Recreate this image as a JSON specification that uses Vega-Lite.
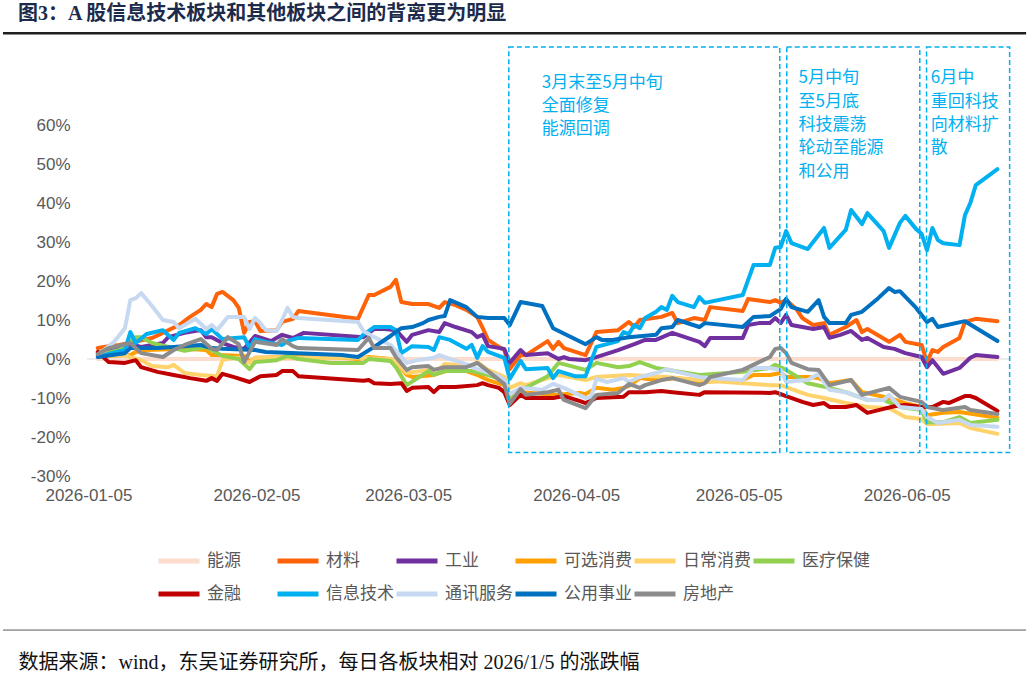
{
"$schema":"https://vega.github.io/schema/vega-lite/v6.json",
"width":924,"height":429,
"autosize":{"type":"none"},
"padding":{"left":87,"top":47,"right":24,"bottom":201},
"background":"#ffffff",
"title":{"text":"图3：A 股信息技术板块和其他板块之间的背离更为明显","anchor":"start","frame":"group","dx":-69,"offset":8,"font":"Liberation Serif, Noto Sans CJK SC","fontSize":20,"fontWeight":"bold","color":"#1C2B4B"},
"config":{"view":{"stroke":null},"axis":{"grid":false,"ticks":false,"domain":false,"labelFont":"Liberation Sans","labelFontSize":17,"labelColor":"#595959"}},
"datasets":{
"series":[
{"s":"能源","d":"2026-01-06","v":0},{"s":"能源","d":"2026-06-21","v":0},
{"s":"材料","d":"2026-01-06","v":2.8},{"s":"材料","d":"2026-01-08","v":3.3},{"s":"材料","d":"2026-01-10","v":3.6},{"s":"材料","d":"2026-01-16","v":5.4},{"s":"材料","d":"2026-01-18","v":6.7},{"s":"材料","d":"2026-01-21","v":8.7},{"s":"材料","d":"2026-01-23","v":10.8},{"s":"材料","d":"2026-01-25","v":12.6},{"s":"材料","d":"2026-01-26","v":14.1},{"s":"材料","d":"2026-01-27","v":13.3},{"s":"材料","d":"2026-01-28","v":16.7},{"s":"材料","d":"2026-01-29","v":17.2},{"s":"材料","d":"2026-01-31","v":15.1},{"s":"材料","d":"2026-02-01","v":13.1},{"s":"材料","d":"2026-02-02","v":6.7},{"s":"材料","d":"2026-02-03","v":9.5},{"s":"材料","d":"2026-02-04","v":9.7},{"s":"材料","d":"2026-02-05","v":7.2},{"s":"材料","d":"2026-02-08","v":7.4},{"s":"材料","d":"2026-02-09","v":9.5},{"s":"材料","d":"2026-02-11","v":10.3},{"s":"材料","d":"2026-02-12","v":12.3},{"s":"材料","d":"2026-02-23","v":10.3},{"s":"材料","d":"2026-02-25","v":16.4},{"s":"材料","d":"2026-02-26","v":16.4},{"s":"材料","d":"2026-03-01","v":18.5},{"s":"材料","d":"2026-03-02","v":20.3},{"s":"材料","d":"2026-03-03","v":14.6},{"s":"材料","d":"2026-03-05","v":14.1},{"s":"材料","d":"2026-03-08","v":14.1},{"s":"材料","d":"2026-03-10","v":13.1},{"s":"材料","d":"2026-03-11","v":14.6},{"s":"材料","d":"2026-03-13","v":13.8},{"s":"材料","d":"2026-03-15","v":12.6},{"s":"材料","d":"2026-03-17","v":10.8},{"s":"材料","d":"2026-03-18","v":8.0},{"s":"材料","d":"2026-03-19","v":4.9},{"s":"材料","d":"2026-03-21","v":3.1},{"s":"材料","d":"2026-03-22","v":2.3},{"s":"材料","d":"2026-03-23","v":-2.6},{"s":"材料","d":"2026-03-25","v":1.0},{"s":"材料","d":"2026-03-26","v":1.0},{"s":"材料","d":"2026-03-30","v":4.6},{"s":"材料","d":"2026-03-31","v":2.6},{"s":"材料","d":"2026-04-01","v":4.4},{"s":"材料","d":"2026-04-02","v":2.8},{"s":"材料","d":"2026-04-06","v":1.0},{"s":"材料","d":"2026-04-08","v":6.9},{"s":"材料","d":"2026-04-12","v":7.4},{"s":"材料","d":"2026-04-14","v":9.5},{"s":"材料","d":"2026-04-15","v":8.2},{"s":"材料","d":"2026-04-16","v":10.0},{"s":"材料","d":"2026-04-20","v":10.8},{"s":"材料","d":"2026-04-22","v":11.8},{"s":"材料","d":"2026-04-23","v":9.2},{"s":"材料","d":"2026-04-26","v":10.5},{"s":"材料","d":"2026-04-28","v":10.0},{"s":"材料","d":"2026-04-29","v":13.3},{"s":"材料","d":"2026-05-05","v":12.3},{"s":"材料","d":"2026-05-06","v":15.4},{"s":"材料","d":"2026-05-10","v":14.6},{"s":"材料","d":"2026-05-11","v":15.1},{"s":"材料","d":"2026-05-12","v":14.4},{"s":"材料","d":"2026-05-13","v":15.1},{"s":"材料","d":"2026-05-15","v":12.6},{"s":"材料","d":"2026-05-16","v":10.5},{"s":"材料","d":"2026-05-18","v":8.7},{"s":"材料","d":"2026-05-20","v":9.2},{"s":"材料","d":"2026-05-21","v":6.2},{"s":"材料","d":"2026-05-24","v":8.2},{"s":"材料","d":"2026-05-26","v":10.0},{"s":"材料","d":"2026-05-27","v":6.9},{"s":"材料","d":"2026-05-28","v":7.7},{"s":"材料","d":"2026-06-01","v":4.4},{"s":"材料","d":"2026-06-03","v":6.2},{"s":"材料","d":"2026-06-04","v":4.4},{"s":"材料","d":"2026-06-07","v":3.6},{"s":"材料","d":"2026-06-08","v":-0.8},{"s":"材料","d":"2026-06-09","v":2.3},{"s":"材料","d":"2026-06-10","v":1.8},{"s":"材料","d":"2026-06-11","v":3.1},{"s":"材料","d":"2026-06-14","v":5.4},{"s":"材料","d":"2026-06-15","v":9.5},{"s":"材料","d":"2026-06-17","v":10.3},{"s":"材料","d":"2026-06-21","v":9.7},
{"s":"工业","d":"2026-01-06","v":1.5},{"s":"工业","d":"2026-01-08","v":2.3},{"s":"工业","d":"2026-01-12","v":3.8},{"s":"工业","d":"2026-01-14","v":3.1},{"s":"工业","d":"2026-01-18","v":4.1},{"s":"工业","d":"2026-01-19","v":5.6},{"s":"工业","d":"2026-01-22","v":6.7},{"s":"工业","d":"2026-01-25","v":7.4},{"s":"工业","d":"2026-01-26","v":5.6},{"s":"工业","d":"2026-01-27","v":5.6},{"s":"工业","d":"2026-01-29","v":4.1},{"s":"工业","d":"2026-01-31","v":3.1},{"s":"工业","d":"2026-02-02","v":2.6},{"s":"工业","d":"2026-02-04","v":5.9},{"s":"工业","d":"2026-02-07","v":4.6},{"s":"工业","d":"2026-02-09","v":6.2},{"s":"工业","d":"2026-02-11","v":5.4},{"s":"工业","d":"2026-02-13","v":6.7},{"s":"工业","d":"2026-02-24","v":5.6},{"s":"工业","d":"2026-02-26","v":7.7},{"s":"工业","d":"2026-02-28","v":7.7},{"s":"工业","d":"2026-03-02","v":7.4},{"s":"工业","d":"2026-03-04","v":4.4},{"s":"工业","d":"2026-03-05","v":6.2},{"s":"工业","d":"2026-03-08","v":7.4},{"s":"工业","d":"2026-03-10","v":6.9},{"s":"工业","d":"2026-03-11","v":9.2},{"s":"工业","d":"2026-03-12","v":8.7},{"s":"工业","d":"2026-03-13","v":8.2},{"s":"工业","d":"2026-03-16","v":6.9},{"s":"工业","d":"2026-03-17","v":5.6},{"s":"工业","d":"2026-03-18","v":6.2},{"s":"工业","d":"2026-03-19","v":3.3},{"s":"工业","d":"2026-03-22","v":2.6},{"s":"工业","d":"2026-03-23","v":-1.0},{"s":"工业","d":"2026-03-25","v":2.3},{"s":"工业","d":"2026-03-26","v":1.0},{"s":"工业","d":"2026-03-30","v":1.5},{"s":"工业","d":"2026-04-01","v":0.0},{"s":"工业","d":"2026-04-02","v":0.5},{"s":"工业","d":"2026-04-03","v":0.0},{"s":"工业","d":"2026-04-06","v":-0.3},{"s":"工业","d":"2026-04-08","v":0.5},{"s":"工业","d":"2026-04-12","v":2.3},{"s":"工业","d":"2026-04-15","v":3.8},{"s":"工业","d":"2026-04-17","v":4.9},{"s":"工业","d":"2026-04-19","v":4.9},{"s":"工业","d":"2026-04-22","v":6.7},{"s":"工业","d":"2026-04-27","v":4.4},{"s":"工业","d":"2026-04-28","v":3.3},{"s":"工业","d":"2026-04-29","v":5.4},{"s":"工业","d":"2026-05-05","v":5.4},{"s":"工业","d":"2026-05-06","v":8.7},{"s":"工业","d":"2026-05-08","v":9.2},{"s":"工业","d":"2026-05-10","v":9.2},{"s":"工业","d":"2026-05-11","v":10.5},{"s":"工业","d":"2026-05-12","v":9.2},{"s":"工业","d":"2026-05-13","v":11.3},{"s":"工业","d":"2026-05-14","v":8.7},{"s":"工业","d":"2026-05-16","v":8.2},{"s":"工业","d":"2026-05-18","v":7.7},{"s":"工业","d":"2026-05-20","v":8.2},{"s":"工业","d":"2026-05-21","v":5.4},{"s":"工业","d":"2026-05-23","v":6.2},{"s":"工业","d":"2026-05-25","v":7.2},{"s":"工业","d":"2026-05-27","v":4.9},{"s":"工业","d":"2026-05-28","v":5.4},{"s":"工业","d":"2026-05-31","v":3.1},{"s":"工业","d":"2026-06-02","v":2.6},{"s":"工业","d":"2026-06-04","v":1.5},{"s":"工业","d":"2026-06-07","v":0.5},{"s":"工业","d":"2026-06-08","v":-2.1},{"s":"工业","d":"2026-06-09","v":-0.3},{"s":"工业","d":"2026-06-11","v":-3.8},{"s":"工业","d":"2026-06-14","v":-2.3},{"s":"工业","d":"2026-06-16","v":0.3},{"s":"工业","d":"2026-06-17","v":1.0},{"s":"工业","d":"2026-06-21","v":0.5},
{"s":"可选消费","d":"2026-01-06","v":0.8},{"s":"可选消费","d":"2026-01-12","v":1.0},{"s":"可选消费","d":"2026-01-13","v":1.8},{"s":"可选消费","d":"2026-01-15","v":2.3},{"s":"可选消费","d":"2026-01-22","v":2.6},{"s":"可选消费","d":"2026-01-26","v":2.3},{"s":"可选消费","d":"2026-01-27","v":1.0},{"s":"可选消费","d":"2026-01-28","v":1.0},{"s":"可选消费","d":"2026-02-02","v":0.8},{"s":"可选消费","d":"2026-02-03","v":-0.8},{"s":"可选消费","d":"2026-02-04","v":0.3},{"s":"可选消费","d":"2026-02-12","v":0.5},{"s":"可选消费","d":"2026-02-20","v":0.3},{"s":"可选消费","d":"2026-02-23","v":0.0},{"s":"可选消费","d":"2026-02-25","v":0.5},{"s":"可选消费","d":"2026-03-01","v":0.0},{"s":"可选消费","d":"2026-03-02","v":-0.8},{"s":"可选消费","d":"2026-03-04","v":-4.1},{"s":"可选消费","d":"2026-03-05","v":-4.6},{"s":"可选消费","d":"2026-03-09","v":-4.1},{"s":"可选消费","d":"2026-03-10","v":-3.6},{"s":"可选消费","d":"2026-03-12","v":-2.8},{"s":"可选消费","d":"2026-03-15","v":-3.1},{"s":"可选消费","d":"2026-03-17","v":-4.1},{"s":"可选消费","d":"2026-03-19","v":-5.4},{"s":"可选消费","d":"2026-03-22","v":-6.7},{"s":"可选消费","d":"2026-03-23","v":-10.3},{"s":"可选消费","d":"2026-03-25","v":-8.5},{"s":"可选消费","d":"2026-03-27","v":-8.7},{"s":"可选消费","d":"2026-03-31","v":-9.2},{"s":"可选消费","d":"2026-04-05","v":-8.7},{"s":"可选消费","d":"2026-04-06","v":-9.0},{"s":"可选消费","d":"2026-04-08","v":-7.4},{"s":"可选消费","d":"2026-04-11","v":-7.9},{"s":"可选消费","d":"2026-04-13","v":-7.4},{"s":"可选消费","d":"2026-04-14","v":-6.9},{"s":"可选消费","d":"2026-04-16","v":-4.9},{"s":"可选消费","d":"2026-04-19","v":-5.4},{"s":"可选消费","d":"2026-04-23","v":-4.9},{"s":"可选消费","d":"2026-04-27","v":-5.9},{"s":"可选消费","d":"2026-05-05","v":-5.4},{"s":"可选消费","d":"2026-05-07","v":-4.1},{"s":"可选消费","d":"2026-05-10","v":-4.1},{"s":"可选消费","d":"2026-05-12","v":-3.6},{"s":"可选消费","d":"2026-05-13","v":-4.6},{"s":"可选消费","d":"2026-05-17","v":-4.6},{"s":"可选消费","d":"2026-05-19","v":-4.9},{"s":"可选消费","d":"2026-05-21","v":-6.2},{"s":"可选消费","d":"2026-05-25","v":-5.4},{"s":"可选消费","d":"2026-05-27","v":-8.5},{"s":"可选消费","d":"2026-06-01","v":-10.0},{"s":"可选消费","d":"2026-06-04","v":-11.3},{"s":"可选消费","d":"2026-06-07","v":-12.3},{"s":"可选消费","d":"2026-06-08","v":-14.4},{"s":"可选消费","d":"2026-06-11","v":-13.8},{"s":"可选消费","d":"2026-06-14","v":-13.6},{"s":"可选消费","d":"2026-06-21","v":-15.1},
{"s":"日常消费","d":"2026-01-06","v":0.8},{"s":"日常消费","d":"2026-01-11","v":1.0},{"s":"日常消费","d":"2026-01-12","v":0.5},{"s":"日常消费","d":"2026-01-14","v":-0.3},{"s":"日常消费","d":"2026-01-16","v":-1.8},{"s":"日常消费","d":"2026-01-19","v":-2.1},{"s":"日常消费","d":"2026-01-20","v":-1.5},{"s":"日常消费","d":"2026-01-22","v":-3.6},{"s":"日常消费","d":"2026-01-25","v":-4.1},{"s":"日常消费","d":"2026-01-28","v":-4.4},{"s":"日常消费","d":"2026-01-29","v":-0.3},{"s":"日常消费","d":"2026-01-31","v":0.3},{"s":"日常消费","d":"2026-02-01","v":0.3},{"s":"日常消费","d":"2026-02-03","v":-1.0},{"s":"日常消费","d":"2026-02-04","v":0.3},{"s":"日常消费","d":"2026-02-12","v":0.3},{"s":"日常消费","d":"2026-02-23","v":0.3},{"s":"日常消费","d":"2026-03-01","v":0.0},{"s":"日常消费","d":"2026-03-02","v":-0.8},{"s":"日常消费","d":"2026-03-04","v":-3.6},{"s":"日常消费","d":"2026-03-08","v":-2.8},{"s":"日常消费","d":"2026-03-10","v":-2.6},{"s":"日常消费","d":"2026-03-11","v":-1.3},{"s":"日常消费","d":"2026-03-16","v":-1.8},{"s":"日常消费","d":"2026-03-17","v":-0.8},{"s":"日常消费","d":"2026-03-19","v":-2.8},{"s":"日常消费","d":"2026-03-22","v":-4.6},{"s":"日常消费","d":"2026-03-23","v":-7.4},{"s":"日常消费","d":"2026-03-25","v":-6.2},{"s":"日常消费","d":"2026-03-26","v":-6.7},{"s":"日常消费","d":"2026-03-30","v":-4.9},{"s":"日常消费","d":"2026-04-01","v":-4.1},{"s":"日常消费","d":"2026-04-06","v":-5.4},{"s":"日常消费","d":"2026-04-08","v":-4.6},{"s":"日常消费","d":"2026-04-14","v":-4.1},{"s":"日常消费","d":"2026-04-21","v":-4.6},{"s":"日常消费","d":"2026-04-27","v":-5.4},{"s":"日常消费","d":"2026-05-05","v":-6.2},{"s":"日常消费","d":"2026-05-10","v":-6.7},{"s":"日常消费","d":"2026-05-12","v":-6.7},{"s":"日常消费","d":"2026-05-17","v":-9.2},{"s":"日常消费","d":"2026-05-20","v":-10.0},{"s":"日常消费","d":"2026-05-24","v":-11.3},{"s":"日常消费","d":"2026-05-28","v":-12.3},{"s":"日常消费","d":"2026-06-01","v":-12.6},{"s":"日常消费","d":"2026-06-04","v":-14.9},{"s":"日常消费","d":"2026-06-07","v":-15.4},{"s":"日常消费","d":"2026-06-08","v":-16.7},{"s":"日常消费","d":"2026-06-14","v":-16.4},{"s":"日常消费","d":"2026-06-16","v":-17.7},{"s":"日常消费","d":"2026-06-21","v":-19.2},
{"s":"医疗保健","d":"2026-01-06","v":1.0},{"s":"医疗保健","d":"2026-01-10","v":2.3},{"s":"医疗保健","d":"2026-01-13","v":5.6},{"s":"医疗保健","d":"2026-01-14","v":5.6},{"s":"医疗保健","d":"2026-01-16","v":4.1},{"s":"医疗保健","d":"2026-01-20","v":2.8},{"s":"医疗保健","d":"2026-01-22","v":2.1},{"s":"医疗保健","d":"2026-01-26","v":3.1},{"s":"医疗保健","d":"2026-01-29","v":0.8},{"s":"医疗保健","d":"2026-02-01","v":0.0},{"s":"医疗保健","d":"2026-02-03","v":-2.6},{"s":"医疗保健","d":"2026-02-04","v":-0.8},{"s":"医疗保健","d":"2026-02-08","v":-0.3},{"s":"医疗保健","d":"2026-02-10","v":0.8},{"s":"医疗保健","d":"2026-02-12","v":0.0},{"s":"医疗保健","d":"2026-02-18","v":-1.0},{"s":"医疗保健","d":"2026-02-24","v":-1.0},{"s":"医疗保健","d":"2026-02-25","v":0.0},{"s":"医疗保健","d":"2026-03-01","v":-0.5},{"s":"医疗保健","d":"2026-03-02","v":-2.1},{"s":"医疗保健","d":"2026-03-04","v":-6.7},{"s":"医疗保健","d":"2026-03-08","v":-3.1},{"s":"医疗保健","d":"2026-03-09","v":-4.1},{"s":"医疗保健","d":"2026-03-11","v":-3.1},{"s":"医疗保健","d":"2026-03-16","v":-3.1},{"s":"医疗保健","d":"2026-03-19","v":-4.1},{"s":"医疗保健","d":"2026-03-22","v":-5.4},{"s":"医疗保健","d":"2026-03-23","v":-10.8},{"s":"医疗保健","d":"2026-03-25","v":-7.9},{"s":"医疗保健","d":"2026-03-26","v":-7.4},{"s":"医疗保健","d":"2026-03-30","v":-4.4},{"s":"医疗保健","d":"2026-04-01","v":-1.0},{"s":"医疗保健","d":"2026-04-06","v":-2.8},{"s":"医疗保健","d":"2026-04-08","v":-1.0},{"s":"医疗保健","d":"2026-04-12","v":-2.1},{"s":"医疗保健","d":"2026-04-14","v":-1.8},{"s":"医疗保健","d":"2026-04-16","v":-0.8},{"s":"医疗保健","d":"2026-04-19","v":-2.3},{"s":"医疗保健","d":"2026-04-27","v":-4.1},{"s":"医疗保健","d":"2026-05-05","v":-3.3},{"s":"医疗保健","d":"2026-05-10","v":-2.3},{"s":"医疗保健","d":"2026-05-11","v":-1.5},{"s":"医疗保健","d":"2026-05-13","v":-2.8},{"s":"医疗保健","d":"2026-05-17","v":-6.2},{"s":"医疗保健","d":"2026-05-21","v":-7.4},{"s":"医疗保健","d":"2026-05-24","v":-8.5},{"s":"医疗保健","d":"2026-05-28","v":-10.5},{"s":"医疗保健","d":"2026-05-31","v":-10.5},{"s":"医疗保健","d":"2026-06-03","v":-12.3},{"s":"医疗保健","d":"2026-06-07","v":-13.1},{"s":"医疗保健","d":"2026-06-08","v":-16.2},{"s":"医疗保健","d":"2026-06-11","v":-16.2},{"s":"医疗保健","d":"2026-06-14","v":-14.9},{"s":"医疗保健","d":"2026-06-16","v":-16.4},{"s":"医疗保健","d":"2026-06-21","v":-15.6},
{"s":"金融","d":"2026-01-06","v":1.8},{"s":"金融","d":"2026-01-08","v":-0.8},{"s":"金融","d":"2026-01-11","v":-1.0},{"s":"金融","d":"2026-01-13","v":-0.3},{"s":"金融","d":"2026-01-14","v":-2.1},{"s":"金融","d":"2026-01-17","v":-3.3},{"s":"金融","d":"2026-01-20","v":-4.1},{"s":"金融","d":"2026-01-23","v":-4.9},{"s":"金融","d":"2026-01-26","v":-5.6},{"s":"金融","d":"2026-01-27","v":-4.9},{"s":"金融","d":"2026-01-28","v":-5.6},{"s":"金融","d":"2026-01-29","v":-3.8},{"s":"金融","d":"2026-01-31","v":-4.6},{"s":"金融","d":"2026-02-03","v":-5.9},{"s":"金融","d":"2026-02-05","v":-4.4},{"s":"金融","d":"2026-02-08","v":-4.1},{"s":"金融","d":"2026-02-09","v":-3.1},{"s":"金融","d":"2026-02-11","v":-3.1},{"s":"金融","d":"2026-02-12","v":-4.4},{"s":"金融","d":"2026-02-24","v":-5.6},{"s":"金融","d":"2026-02-25","v":-5.4},{"s":"金融","d":"2026-02-26","v":-6.2},{"s":"金融","d":"2026-03-01","v":-6.4},{"s":"金融","d":"2026-03-03","v":-6.2},{"s":"金融","d":"2026-03-04","v":-8.2},{"s":"金融","d":"2026-03-05","v":-7.4},{"s":"金融","d":"2026-03-08","v":-7.2},{"s":"金融","d":"2026-03-09","v":-8.5},{"s":"金融","d":"2026-03-10","v":-7.2},{"s":"金融","d":"2026-03-13","v":-7.2},{"s":"金融","d":"2026-03-17","v":-6.7},{"s":"金融","d":"2026-03-18","v":-6.2},{"s":"金融","d":"2026-03-19","v":-6.7},{"s":"金融","d":"2026-03-21","v":-7.4},{"s":"金融","d":"2026-03-22","v":-8.5},{"s":"金融","d":"2026-03-23","v":-11.8},{"s":"金融","d":"2026-03-25","v":-9.2},{"s":"金融","d":"2026-03-26","v":-10.0},{"s":"金融","d":"2026-03-31","v":-10.0},{"s":"金融","d":"2026-04-02","v":-9.5},{"s":"金融","d":"2026-04-05","v":-10.8},{"s":"金融","d":"2026-04-06","v":-11.3},{"s":"金融","d":"2026-04-08","v":-10.0},{"s":"金融","d":"2026-04-13","v":-9.7},{"s":"金融","d":"2026-04-14","v":-8.5},{"s":"金融","d":"2026-04-17","v":-8.5},{"s":"金融","d":"2026-04-20","v":-8.2},{"s":"金融","d":"2026-04-22","v":-8.5},{"s":"金融","d":"2026-04-27","v":-9.2},{"s":"金融","d":"2026-04-28","v":-8.5},{"s":"金融","d":"2026-05-10","v":-8.7},{"s":"金融","d":"2026-05-11","v":-8.5},{"s":"金融","d":"2026-05-13","v":-9.5},{"s":"金融","d":"2026-05-16","v":-11.0},{"s":"金融","d":"2026-05-18","v":-11.8},{"s":"金融","d":"2026-05-20","v":-11.3},{"s":"金融","d":"2026-05-21","v":-12.3},{"s":"金融","d":"2026-05-24","v":-12.3},{"s":"金融","d":"2026-05-26","v":-11.8},{"s":"金融","d":"2026-05-28","v":-13.8},{"s":"金融","d":"2026-05-31","v":-12.8},{"s":"金融","d":"2026-06-02","v":-12.1},{"s":"金融","d":"2026-06-04","v":-11.8},{"s":"金融","d":"2026-06-07","v":-12.3},{"s":"金融","d":"2026-06-09","v":-12.3},{"s":"金融","d":"2026-06-11","v":-11.0},{"s":"金融","d":"2026-06-12","v":-11.3},{"s":"金融","d":"2026-06-15","v":-9.5},{"s":"金融","d":"2026-06-16","v":-9.5},{"s":"金融","d":"2026-06-17","v":-10.0},{"s":"金融","d":"2026-06-21","v":-13.3},
{"s":"信息技术","d":"2026-01-06","v":0.5},{"s":"信息技术","d":"2026-01-08","v":1.3},{"s":"信息技术","d":"2026-01-11","v":2.3},{"s":"信息技术","d":"2026-01-12","v":6.9},{"s":"信息技术","d":"2026-01-13","v":4.1},{"s":"信息技术","d":"2026-01-15","v":6.4},{"s":"信息技术","d":"2026-01-18","v":7.4},{"s":"信息技术","d":"2026-01-20","v":4.9},{"s":"信息技术","d":"2026-01-21","v":6.7},{"s":"信息技术","d":"2026-01-24","v":7.9},{"s":"信息技术","d":"2026-01-26","v":6.4},{"s":"信息技术","d":"2026-01-27","v":7.7},{"s":"信息技术","d":"2026-01-29","v":5.1},{"s":"信息技术","d":"2026-02-02","v":5.6},{"s":"信息技术","d":"2026-02-03","v":2.8},{"s":"信息技术","d":"2026-02-04","v":5.1},{"s":"信息技术","d":"2026-02-06","v":4.4},{"s":"信息技术","d":"2026-02-09","v":3.6},{"s":"信息技术","d":"2026-02-10","v":4.6},{"s":"信息技术","d":"2026-02-12","v":5.4},{"s":"信息技术","d":"2026-02-23","v":4.9},{"s":"信息技术","d":"2026-02-24","v":6.2},{"s":"信息技术","d":"2026-02-26","v":8.2},{"s":"信息技术","d":"2026-03-01","v":8.2},{"s":"信息技术","d":"2026-03-02","v":7.4},{"s":"信息技术","d":"2026-03-03","v":1.5},{"s":"信息技术","d":"2026-03-05","v":3.3},{"s":"信息技术","d":"2026-03-08","v":3.1},{"s":"信息技术","d":"2026-03-09","v":2.3},{"s":"信息技术","d":"2026-03-10","v":5.6},{"s":"信息技术","d":"2026-03-12","v":4.9},{"s":"信息技术","d":"2026-03-15","v":2.6},{"s":"信息技术","d":"2026-03-16","v":3.6},{"s":"信息技术","d":"2026-03-17","v":0.3},{"s":"信息技术","d":"2026-03-18","v":3.3},{"s":"信息技术","d":"2026-03-19","v":1.8},{"s":"信息技术","d":"2026-03-22","v":0.3},{"s":"信息技术","d":"2026-03-23","v":-5.1},{"s":"信息技术","d":"2026-03-25","v":-0.5},{"s":"信息技术","d":"2026-03-26","v":-2.6},{"s":"信息技术","d":"2026-03-30","v":-2.3},{"s":"信息技术","d":"2026-03-31","v":-4.9},{"s":"信息技术","d":"2026-04-01","v":-3.1},{"s":"信息技术","d":"2026-04-04","v":-4.4},{"s":"信息技术","d":"2026-04-06","v":-4.4},{"s":"信息技术","d":"2026-04-08","v":3.1},{"s":"信息技术","d":"2026-04-12","v":4.6},{"s":"信息技术","d":"2026-04-13","v":6.9},{"s":"信息技术","d":"2026-04-14","v":6.4},{"s":"信息技术","d":"2026-04-15","v":8.7},{"s":"信息技术","d":"2026-04-16","v":7.9},{"s":"信息技术","d":"2026-04-17","v":10.5},{"s":"信息技术","d":"2026-04-19","v":12.1},{"s":"信息技术","d":"2026-04-20","v":13.3},{"s":"信息技术","d":"2026-04-21","v":12.6},{"s":"信息技术","d":"2026-04-22","v":16.2},{"s":"信息技术","d":"2026-04-23","v":14.6},{"s":"信息技术","d":"2026-04-26","v":13.3},{"s":"信息技术","d":"2026-04-27","v":15.9},{"s":"信息技术","d":"2026-04-28","v":14.4},{"s":"信息技术","d":"2026-05-05","v":16.4},{"s":"信息技术","d":"2026-05-06","v":20.3},{"s":"信息技术","d":"2026-05-07","v":24.1},{"s":"信息技术","d":"2026-05-10","v":24.1},{"s":"信息技术","d":"2026-05-11","v":28.5},{"s":"信息技术","d":"2026-05-12","v":28.7},{"s":"信息技术","d":"2026-05-13","v":32.8},{"s":"信息技术","d":"2026-05-14","v":29.7},{"s":"信息技术","d":"2026-05-17","v":28.2},{"s":"信息技术","d":"2026-05-20","v":33.6},{"s":"信息技术","d":"2026-05-21","v":28.5},{"s":"信息技术","d":"2026-05-24","v":33.1},{"s":"信息技术","d":"2026-05-25","v":38.2},{"s":"信息技术","d":"2026-05-27","v":34.6},{"s":"信息技术","d":"2026-05-28","v":37.4},{"s":"信息技术","d":"2026-05-31","v":32.8},{"s":"信息技术","d":"2026-06-01","v":28.5},{"s":"信息技术","d":"2026-06-03","v":34.9},{"s":"信息技术","d":"2026-06-04","v":36.7},{"s":"信息技术","d":"2026-06-06","v":33.3},{"s":"信息技术","d":"2026-06-07","v":32.1},{"s":"信息技术","d":"2026-06-08","v":27.9},{"s":"信息技术","d":"2026-06-09","v":33.6},{"s":"信息技术","d":"2026-06-10","v":30.5},{"s":"信息技术","d":"2026-06-11","v":29.7},{"s":"信息技术","d":"2026-06-14","v":29.2},{"s":"信息技术","d":"2026-06-15","v":36.9},{"s":"信息技术","d":"2026-06-16","v":40.0},{"s":"信息技术","d":"2026-06-17","v":44.6},{"s":"信息技术","d":"2026-06-21","v":48.7},
{"s":"通讯服务","d":"2026-01-06","v":1.0},{"s":"通讯服务","d":"2026-01-09","v":4.4},{"s":"通讯服务","d":"2026-01-11","v":7.9},{"s":"通讯服务","d":"2026-01-12","v":15.1},{"s":"通讯服务","d":"2026-01-13","v":15.6},{"s":"通讯服务","d":"2026-01-14","v":16.9},{"s":"通讯服务","d":"2026-01-16","v":13.6},{"s":"通讯服务","d":"2026-01-18","v":10.0},{"s":"通讯服务","d":"2026-01-20","v":9.5},{"s":"通讯服务","d":"2026-01-21","v":7.9},{"s":"通讯服务","d":"2026-01-24","v":10.3},{"s":"通讯服务","d":"2026-01-26","v":7.7},{"s":"通讯服务","d":"2026-01-27","v":8.7},{"s":"通讯服务","d":"2026-01-28","v":7.4},{"s":"通讯服务","d":"2026-01-30","v":10.8},{"s":"通讯服务","d":"2026-02-02","v":10.8},{"s":"通讯服务","d":"2026-02-03","v":7.7},{"s":"通讯服务","d":"2026-02-04","v":10.5},{"s":"通讯服务","d":"2026-02-05","v":9.2},{"s":"通讯服务","d":"2026-02-06","v":7.4},{"s":"通讯服务","d":"2026-02-08","v":7.2},{"s":"通讯服务","d":"2026-02-09","v":10.0},{"s":"通讯服务","d":"2026-02-10","v":13.1},{"s":"通讯服务","d":"2026-02-11","v":10.8},{"s":"通讯服务","d":"2026-02-12","v":10.5},{"s":"通讯服务","d":"2026-02-23","v":9.5},{"s":"通讯服务","d":"2026-02-24","v":7.2},{"s":"通讯服务","d":"2026-02-26","v":5.6},{"s":"通讯服务","d":"2026-03-01","v":3.6},{"s":"通讯服务","d":"2026-03-04","v":-1.0},{"s":"通讯服务","d":"2026-03-06","v":-0.3},{"s":"通讯服务","d":"2026-03-09","v":0.3},{"s":"通讯服务","d":"2026-03-10","v":1.0},{"s":"通讯服务","d":"2026-03-12","v":0.0},{"s":"通讯服务","d":"2026-03-15","v":-1.3},{"s":"通讯服务","d":"2026-03-17","v":-2.6},{"s":"通讯服务","d":"2026-03-21","v":-4.4},{"s":"通讯服务","d":"2026-03-22","v":-5.4},{"s":"通讯服务","d":"2026-03-23","v":-9.0},{"s":"通讯服务","d":"2026-03-25","v":-7.4},{"s":"通讯服务","d":"2026-03-29","v":-7.9},{"s":"通讯服务","d":"2026-03-31","v":-6.4},{"s":"通讯服务","d":"2026-04-02","v":-7.4},{"s":"通讯服务","d":"2026-04-06","v":-10.0},{"s":"通讯服务","d":"2026-04-07","v":-9.7},{"s":"通讯服务","d":"2026-04-08","v":-5.1},{"s":"通讯服务","d":"2026-04-10","v":-5.9},{"s":"通讯服务","d":"2026-04-13","v":-4.9},{"s":"通讯服务","d":"2026-04-14","v":-5.9},{"s":"通讯服务","d":"2026-04-16","v":-4.6},{"s":"通讯服务","d":"2026-04-19","v":-3.6},{"s":"通讯服务","d":"2026-04-21","v":-2.6},{"s":"通讯服务","d":"2026-04-23","v":-3.3},{"s":"通讯服务","d":"2026-04-27","v":-4.6},{"s":"通讯服务","d":"2026-04-29","v":-4.9},{"s":"通讯服务","d":"2026-05-05","v":-5.4},{"s":"通讯服务","d":"2026-05-07","v":-2.3},{"s":"通讯服务","d":"2026-05-10","v":-2.3},{"s":"通讯服务","d":"2026-05-12","v":-2.8},{"s":"通讯服务","d":"2026-05-13","v":-5.9},{"s":"通讯服务","d":"2026-05-15","v":-5.6},{"s":"通讯服务","d":"2026-05-17","v":-5.4},{"s":"通讯服务","d":"2026-05-19","v":-3.8},{"s":"通讯服务","d":"2026-05-21","v":-7.9},{"s":"通讯服务","d":"2026-05-24","v":-8.5},{"s":"通讯服务","d":"2026-05-28","v":-10.5},{"s":"通讯服务","d":"2026-05-31","v":-10.5},{"s":"通讯服务","d":"2026-06-01","v":-9.2},{"s":"通讯服务","d":"2026-06-03","v":-12.3},{"s":"通讯服务","d":"2026-06-07","v":-12.8},{"s":"通讯服务","d":"2026-06-08","v":-14.9},{"s":"通讯服务","d":"2026-06-10","v":-16.4},{"s":"通讯服务","d":"2026-06-14","v":-15.6},{"s":"通讯服务","d":"2026-06-16","v":-16.9},{"s":"通讯服务","d":"2026-06-21","v":-17.4},
{"s":"公用事业","d":"2026-01-06","v":0.5},{"s":"公用事业","d":"2026-01-11","v":1.5},{"s":"公用事业","d":"2026-01-12","v":2.8},{"s":"公用事业","d":"2026-01-17","v":2.8},{"s":"公用事业","d":"2026-01-20","v":3.1},{"s":"公用事业","d":"2026-01-25","v":3.6},{"s":"公用事业","d":"2026-01-27","v":2.8},{"s":"公用事业","d":"2026-01-29","v":2.6},{"s":"公用事业","d":"2026-02-04","v":2.3},{"s":"公用事业","d":"2026-02-06","v":1.8},{"s":"公用事业","d":"2026-02-20","v":1.0},{"s":"公用事业","d":"2026-02-23","v":0.5},{"s":"公用事业","d":"2026-02-26","v":3.1},{"s":"公用事业","d":"2026-03-01","v":5.9},{"s":"公用事业","d":"2026-03-03","v":7.9},{"s":"公用事业","d":"2026-03-05","v":8.2},{"s":"公用事业","d":"2026-03-07","v":9.2},{"s":"公用事业","d":"2026-03-08","v":10.0},{"s":"公用事业","d":"2026-03-10","v":10.8},{"s":"公用事业","d":"2026-03-11","v":11.0},{"s":"公用事业","d":"2026-03-12","v":15.1},{"s":"公用事业","d":"2026-03-15","v":13.3},{"s":"公用事业","d":"2026-03-17","v":10.8},{"s":"公用事业","d":"2026-03-19","v":10.5},{"s":"公用事业","d":"2026-03-22","v":10.5},{"s":"公用事业","d":"2026-03-23","v":8.7},{"s":"公用事业","d":"2026-03-25","v":14.6},{"s":"公用事业","d":"2026-03-29","v":13.6},{"s":"公用事业","d":"2026-03-31","v":7.9},{"s":"公用事业","d":"2026-04-06","v":3.8},{"s":"公用事业","d":"2026-04-08","v":5.6},{"s":"公用事业","d":"2026-04-09","v":4.9},{"s":"公用事业","d":"2026-04-11","v":4.9},{"s":"公用事业","d":"2026-04-14","v":5.6},{"s":"公用事业","d":"2026-04-19","v":6.2},{"s":"公用事业","d":"2026-04-20","v":7.9},{"s":"公用事业","d":"2026-04-22","v":8.2},{"s":"公用事业","d":"2026-04-23","v":10.0},{"s":"公用事业","d":"2026-04-27","v":8.2},{"s":"公用事业","d":"2026-04-28","v":9.2},{"s":"公用事业","d":"2026-05-05","v":8.2},{"s":"公用事业","d":"2026-05-07","v":10.8},{"s":"公用事业","d":"2026-05-10","v":11.0},{"s":"公用事业","d":"2026-05-12","v":12.8},{"s":"公用事业","d":"2026-05-13","v":15.4},{"s":"公用事业","d":"2026-05-14","v":13.3},{"s":"公用事业","d":"2026-05-17","v":12.1},{"s":"公用事业","d":"2026-05-19","v":15.1},{"s":"公用事业","d":"2026-05-20","v":10.8},{"s":"公用事业","d":"2026-05-21","v":9.2},{"s":"公用事业","d":"2026-05-24","v":9.2},{"s":"公用事业","d":"2026-05-25","v":11.3},{"s":"公用事业","d":"2026-05-27","v":12.1},{"s":"公用事业","d":"2026-05-30","v":15.6},{"s":"公用事业","d":"2026-06-01","v":18.2},{"s":"公用事业","d":"2026-06-02","v":17.2},{"s":"公用事业","d":"2026-06-03","v":17.4},{"s":"公用事业","d":"2026-06-06","v":13.1},{"s":"公用事业","d":"2026-06-08","v":9.5},{"s":"公用事业","d":"2026-06-09","v":10.3},{"s":"公用事业","d":"2026-06-10","v":8.2},{"s":"公用事业","d":"2026-06-15","v":9.7},{"s":"公用事业","d":"2026-06-21","v":4.6},
{"s":"房地产","d":"2026-01-06","v":1.3},{"s":"房地产","d":"2026-01-08","v":2.8},{"s":"房地产","d":"2026-01-12","v":4.1},{"s":"房地产","d":"2026-01-14","v":1.5},{"s":"房地产","d":"2026-01-18","v":0.5},{"s":"房地产","d":"2026-01-20","v":2.3},{"s":"房地产","d":"2026-01-22","v":3.6},{"s":"房地产","d":"2026-01-25","v":5.1},{"s":"房地产","d":"2026-01-27","v":2.6},{"s":"房地产","d":"2026-01-28","v":2.3},{"s":"房地产","d":"2026-01-30","v":5.6},{"s":"房地产","d":"2026-02-01","v":3.8},{"s":"房地产","d":"2026-02-02","v":-0.8},{"s":"房地产","d":"2026-02-04","v":4.4},{"s":"房地产","d":"2026-02-08","v":3.6},{"s":"房地产","d":"2026-02-09","v":5.1},{"s":"房地产","d":"2026-02-11","v":3.3},{"s":"房地产","d":"2026-02-12","v":2.8},{"s":"房地产","d":"2026-02-23","v":2.3},{"s":"房地产","d":"2026-02-25","v":5.4},{"s":"房地产","d":"2026-02-26","v":2.8},{"s":"房地产","d":"2026-03-01","v":2.8},{"s":"房地产","d":"2026-03-02","v":0.5},{"s":"房地产","d":"2026-03-04","v":-2.8},{"s":"房地产","d":"2026-03-05","v":-2.1},{"s":"房地产","d":"2026-03-08","v":-1.8},{"s":"房地产","d":"2026-03-09","v":-2.8},{"s":"房地产","d":"2026-03-11","v":-2.1},{"s":"房地产","d":"2026-03-15","v":-2.1},{"s":"房地产","d":"2026-03-17","v":-1.0},{"s":"房地产","d":"2026-03-19","v":-3.1},{"s":"房地产","d":"2026-03-22","v":-6.4},{"s":"房地产","d":"2026-03-23","v":-11.5},{"s":"房地产","d":"2026-03-25","v":-7.7},{"s":"房地产","d":"2026-03-26","v":-9.2},{"s":"房地产","d":"2026-03-30","v":-8.5},{"s":"房地产","d":"2026-04-01","v":-7.9},{"s":"房地产","d":"2026-04-02","v":-10.5},{"s":"房地产","d":"2026-04-06","v":-12.6},{"s":"房地产","d":"2026-04-08","v":-9.2},{"s":"房地产","d":"2026-04-12","v":-8.7},{"s":"房地产","d":"2026-04-14","v":-6.4},{"s":"房地产","d":"2026-04-16","v":-7.4},{"s":"房地产","d":"2026-04-17","v":-6.7},{"s":"房地产","d":"2026-04-20","v":-5.4},{"s":"房地产","d":"2026-04-22","v":-4.9},{"s":"房地产","d":"2026-04-27","v":-6.7},{"s":"房地产","d":"2026-04-28","v":-6.2},{"s":"房地产","d":"2026-04-29","v":-4.6},{"s":"房地产","d":"2026-05-05","v":-2.8},{"s":"房地产","d":"2026-05-08","v":-0.8},{"s":"房地产","d":"2026-05-10","v":0.5},{"s":"房地产","d":"2026-05-11","v":2.6},{"s":"房地产","d":"2026-05-12","v":2.8},{"s":"房地产","d":"2026-05-13","v":1.5},{"s":"房地产","d":"2026-05-14","v":-1.0},{"s":"房地产","d":"2026-05-17","v":-2.6},{"s":"房地产","d":"2026-05-19","v":-2.8},{"s":"房地产","d":"2026-05-21","v":-6.7},{"s":"房地产","d":"2026-05-25","v":-5.4},{"s":"房地产","d":"2026-05-27","v":-9.2},{"s":"房地产","d":"2026-06-01","v":-7.4},{"s":"房地产","d":"2026-06-03","v":-9.7},{"s":"房地产","d":"2026-06-07","v":-11.0},{"s":"房地产","d":"2026-06-08","v":-12.3},{"s":"房地产","d":"2026-06-11","v":-13.1},{"s":"房地产","d":"2026-06-15","v":-12.3},{"s":"房地产","d":"2026-06-16","v":-13.1},{"s":"房地产","d":"2026-06-21","v":-14.1}
],
"boxes":[
{"a":"2026-03-22T20:00Z","b":"2026-05-11T20:00Z"},
{"a":"2026-05-13T03:00Z","b":"2026-06-06T16:00Z"},
{"a":"2026-06-07T22:00Z","b":"2026-06-23T06:00Z"}
],
"notes":[
{"t":"3月末至5月中旬\n全面修复\n能源回调","d":"2026-03-28T22:00Z","v":72.9},
{"t":"5月中旬\n至5月底\n科技震荡\n轮动至能源\n和公用","d":"2026-05-15T07:00Z","v":74.0},
{"t":"6月中\n重回科技\n向材料扩\n散","d":"2026-06-08T17:00Z","v":74.0}
]
},
"layer":[
{"data":{"values":[{}]},"mark":{"type":"rule","color":"#D9D9D9","strokeWidth":1},"encoding":{"y":{"datum":0,"type":"quantitative"}}},
{"data":{"name":"series"},"mark":{"type":"line","strokeWidth":4,"strokeJoin":"round","strokeCap":"round"},
"encoding":{
"x":{"field":"d","type":"temporal","scale":{"type":"utc","domain":[{"year":2026,"month":1,"date":4,"utc":true},{"year":2026,"month":6,"date":23,"hours":12,"utc":true}]},
"axis":{"values":[{"year":2026,"month":1,"date":5,"utc":true},{"year":2026,"month":2,"date":5,"utc":true},{"year":2026,"month":3,"date":5,"utc":true},{"year":2026,"month":4,"date":5,"utc":true},{"year":2026,"month":5,"date":5,"utc":true},{"year":2026,"month":6,"date":5,"utc":true}],"labelExpr":"utcFormat(datum.value, '%Y-%m-%d')","labelPadding":11,"labelOffset":-4,
"title":"数据来源：wind，东吴证券研究所，每日各板块相对 2026/1/5 的涨跌幅","titleFont":"Liberation Serif, Noto Sans CJK SC","titleFontSize":20,"titleFontWeight":"normal","titleColor":"#111111","titleX":-69,"titleY":186,"titleAlign":"left","titleAnchor":"start","titleBaseline":"middle"}},
"y":{"field":"v","type":"quantitative","scale":{"domain":[-30,80]},"axis":{"values":[-30,-20,-10,0,10,20,30,40,50,60],"labelExpr":"datum.value + '%'","labelPadding":17,"title":null}},
"color":{"field":"s","type":"nominal","scale":{"domain":["能源","材料","工业","可选消费","日常消费","医疗保健","金融","信息技术","通讯服务","公用事业","房地产"],"range":["#FCDCCD","#FF6309","#7030A0","#FFA000","#FFD36B","#92D050","#C00000","#00B0F0","#C6D9F1","#0070C0","#8C8C8C"]},
"legend":{"title":null,"orient":"none","legendX":69,"legendY":491,"direction":"horizontal","columns":6,"gridAlign":"all","symbolType":"stroke","symbolSize":1681,"symbolStrokeWidth":5,"labelFont":"Noto Sans CJK SC","labelFontSize":17,"labelColor":"#595959","labelOffset":5,"columnPadding":-11.5,"rowPadding":-10,"padding":0,"labelLimit":200}}
}},
{"data":{"name":"boxes"},"mark":{"type":"rect","fillOpacity":0,"stroke":"#00B0F0","strokeWidth":1.5,"strokeDash":[5,3]},"encoding":{"x":{"field":"a","type":"temporal"},"x2":{"field":"b"},"y":{"datum":80,"type":"quantitative"},"y2":{"datum":-24}}},
{"data":{"name":"notes"},"mark":{"type":"text","align":"left","baseline":"top","lineBreak":"\n","lineHeight":23.3,"font":"Noto Sans CJK SC","fontSize":17,"color":"#00B0F0"},"encoding":{"x":{"field":"d","type":"temporal"},"y":{"field":"v","type":"quantitative"},"text":{"field":"t"}}},
{"data":{"values":[{}]},"mark":{"type":"rule","color":"#1F1F1F","strokeWidth":2.5},"encoding":{"x":{"datum":{"year":2025,"month":12,"date":19,"hours":12,"utc":true},"type":"temporal"},"x2":{"datum":{"year":2026,"month":6,"date":26,"hours":7,"utc":true}},"y":{"datum":83.5,"type":"quantitative"}}},
{"data":{"values":[{}]},"mark":{"type":"rule","color":"#595959","strokeWidth":1},"encoding":{"x":{"datum":{"year":2025,"month":12,"date":19,"hours":12,"utc":true},"type":"temporal"},"x2":{"datum":{"year":2026,"month":6,"date":26,"hours":7,"utc":true}},"y":{"datum":-69.5,"type":"quantitative"}}}
]
}
